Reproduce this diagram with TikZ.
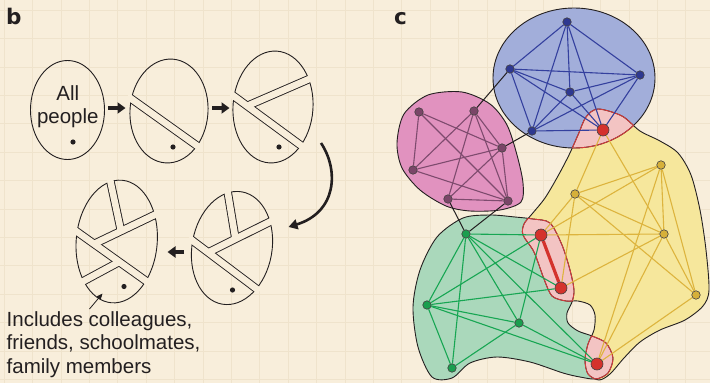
\documentclass[tikz,border=0pt]{standalone}
\usepackage{fontspec}
\setmainfont{Liberation Sans}
\newfontfamily\panelfont{DejaVu Sans}
\usetikzlibrary{arrows.meta}

\definecolor{paper}{HTML}{F8EEDB}
\definecolor{gridline}{HTML}{EFE3CC}
\definecolor{ink}{HTML}{231F20}
\definecolor{bluefill}{HTML}{A2AEDA}
\definecolor{bluedot}{HTML}{2E3890}
\definecolor{blueline}{HTML}{34409E}
\definecolor{magfill}{HTML}{E192BF}
\definecolor{magdot}{HTML}{7A4668}
\definecolor{magline}{HTML}{7E4B6E}
\definecolor{greenfill}{HTML}{AAD8BB}
\definecolor{greendot}{HTML}{1B9E4F}
\definecolor{greenline}{HTML}{17A653}
\definecolor{yelfill}{HTML}{F6E79C}
\definecolor{yeldot}{HTML}{D6B03A}
\definecolor{yelline}{HTML}{DDB43E}
\definecolor{reddot}{HTML}{D4322C}
\definecolor{overlap}{HTML}{F3C4C3}
\definecolor{overlapline}{HTML}{D63B3B}

\pgfdeclarelayer{blobs}
\pgfdeclarelayer{links}
\pgfsetlayers{blobs,links,main}

% community outlines
\def\bluearea{(574,78) ellipse [x radius=81, y radius=70]}
\def\magarea{plot [smooth cycle] coordinates {(397,143) (404,114) (428,95) (462,92) (490,104) (507,125) (517,155) (523,183) (521,202) (500,210) (470,211) (446,206) (420,190) (402,168)}}
\def\yelarea{plot [smooth cycle] coordinates {(598,109) (622,116) (640,131) (660,141) (678,153) (691,175) (700,210) (706,250) (709,290) (703,306) (685,320) (660,330) (640,342) (624,358) (610,374) (599,380) (588,374) (585,360) (588,344) (594,330) (595,315) (590,305) (578,301) (566,301) (552,296) (544,279) (534,252) (523,235) (524,224) (532,214) (545,198) (558,176) (569,155) (578,135) (586,117)}}
\def\greenarea{plot [smooth cycle] coordinates {(463,218) (490,215) (515,217) (533,219) (550,223) (562,245) (570,270) (574,290) (572,302) (567,313) (568,323) (578,331) (592,336) (606,343) (613,358) (608,373) (596,379) (580,377) (563,373) (530,362) (497,357) (470,363) (452,378) (432,377) (418,347) (413,307) (420,270) (437,237)}}

\begin{document}
\begin{tikzpicture}[
    x=1pt, y=-1pt,
    egg/.style={draw=ink, line width=0.9pt},
    cutedge/.style={draw=ink, line width=8.4pt},
    cutgap/.style={draw=paper, line width=6.6pt},
    bigarrow/.style={draw=ink, line width=3.2pt, -{Triangle[length=8pt,width=11pt]}},
    bendarrow/.style={draw=ink, line width=2.6pt, -{Triangle[length=9pt,width=10pt]}},
    pointer/.style={draw=ink, line width=0.8pt, -{Triangle[length=6pt,width=5pt]}},
    words/.style={inner sep=0, text=ink, font=\fontsize{20.5}{23.5}\selectfont},
    tag/.style={inner sep=0, text=ink, font=\panelfont\bfseries\fontsize{21.5}{22}\selectfont},
    rim/.style={draw=ink, line width=0.9pt},
    redrim/.style={draw=overlapline, line width=0.9pt},
    vertex/.style={circle, draw=ink!85, line width=0.6pt, inner sep=0, minimum size=8.5pt},
    bluenode/.style={vertex, fill=bluedot},
    magnode/.style={vertex, fill=magdot},
    greennode/.style={vertex, fill=greendot},
    yelnode/.style={vertex, fill=yeldot},
    rednode/.style={vertex, fill=reddot, minimum size=12pt},
    bluelink/.style={draw=blueline, line width=1.1pt},
    maglink/.style={draw=magline, line width=1.1pt},
    greenlink/.style={draw=greenline, line width=1.1pt},
    yellink/.style={draw=yelline, line width=1.1pt},
    bridge/.style={draw=ink, line width=1pt},
    redlink/.style={draw=reddot, line width=3.2pt}
]
\useasboundingbox (0,0) rectangle (710,383);

\begin{pgfonlayer}{blobs}
\fill[paper] (0,0) rectangle (710,383);
\foreach \gx in {4,32.4,...,710} \draw[gridline, line width=0.5pt] (\gx,0) -- (\gx,383);
\foreach \gy in {10,38.4,...,383} \draw[gridline, line width=0.5pt] (0,\gy) -- (710,\gy);

\fill[bluefill] \bluearea;
\fill[magfill] \magarea;
\fill[yelfill] \yelarea;
\fill[greenfill] \greenarea;
\begin{scope}
    \clip \bluearea;
    \fill[overlap] \yelarea;
\end{scope}
\begin{scope}
    \clip \greenarea;
    \fill[overlap] \yelarea;
\end{scope}
\draw[rim] \bluearea;
\draw[rim] \magarea;
\draw[rim] \yelarea;
\draw[rim] \greenarea;
\begin{scope}
    \clip \bluearea;
    \draw[redrim] \yelarea;
\end{scope}
\begin{scope}
    \clip \yelarea;
    \draw[redrim] \bluearea;
    \draw[redrim] \greenarea;
\end{scope}
\begin{scope}
    \clip \greenarea;
    \draw[redrim] \yelarea;
\end{scope}
\end{pgfonlayer}

% panel b
\node[tag, anchor=base west] (labb) at (6,24.3) {b};

% all people
\draw[egg] (67.5,110) ellipse [x radius=37, y radius=49.5];
\node[words, align=center, anchor=north] (allpeople) at (67.8,85.4) {All\\people};
\fill[ink] (73,142) circle (2.6);

% one cut
\draw[egg] (169,111) ellipse [x radius=39, y radius=52, rotate=-4];
\begin{scope}
    \clip (169,111) ellipse [x radius=39, y radius=52, rotate=-4];
    \draw[cutedge] (126,95) -- (203,150);
\end{scope}
\begin{scope}
    \clip (169,111) ellipse [x radius=43, y radius=56, rotate=-4];
    \draw[cutgap] (126,95) -- (203,150);
\end{scope}
\fill[ink] (173,147) circle (2.6);

% two cuts
\draw[egg] (273,107) ellipse [x radius=40, y radius=56, rotate=-4];
\begin{scope}
    \clip (273,107) ellipse [x radius=40, y radius=56, rotate=-4];
    \draw[cutedge] (228.6,92.3) -- (305.4,148.7);
    \draw[cutedge] (247,106) -- (314.3,76.8);
\end{scope}
\begin{scope}
    \clip (273,107) ellipse [x radius=44, y radius=60, rotate=-4];
    \draw[cutgap] (228.6,92.3) -- (305.4,148.7);
    \draw[cutgap] (247,106) -- (314.3,76.8);
\end{scope}
\fill[ink] (279,147) circle (2.6);

% three cuts
\draw[egg] (232,248) ellipse [x radius=40, y radius=57, rotate=-10];
\begin{scope}
    \clip (232,248) ellipse [x radius=40, y radius=57, rotate=-10];
    \draw[cutedge] (185.3,235.2) -- (263.1,293.8);
    \draw[cutedge] (208.3,252.5) -- (277.2,218.1);
    \draw[cutedge] (235.5,239) -- (226.7,186.1);
\end{scope}
\begin{scope}
    \clip (232,248) ellipse [x radius=44, y radius=61, rotate=-10];
    \draw[cutgap] (185.3,235.2) -- (263.1,293.8);
    \draw[cutgap] (208.3,252.5) -- (277.2,218.1);
    \draw[cutgap] (235.5,239) -- (226.7,186.1);
\end{scope}
\fill[ink] (232.5,290) circle (2.6);

% four cuts
\draw[egg] (116.7,241.5) ellipse [x radius=40.5, y radius=61.5, rotate=-5];
\begin{scope}
    \clip (116.7,241.5) ellipse [x radius=40.5, y radius=61.5, rotate=-5];
    \draw[cutedge] (69.5,226.4) -- (152.5,285.6);
    \draw[cutedge] (94,244) -- (163.2,210.8);
    \draw[cutedge] (121,231) -- (109.3,176.2);
    \draw[cutedge] (119,262) -- (78,284.1);
\end{scope}
\begin{scope}
    \clip (116.7,241.5) ellipse [x radius=44.5, y radius=65.5, rotate=-5];
    \draw[cutgap] (69.5,226.4) -- (152.5,285.6);
    \draw[cutgap] (94,244) -- (163.2,210.8);
    \draw[cutgap] (121,231) -- (109.3,176.2);
    \draw[cutgap] (119,262) -- (78,284.1);
\end{scope}
\fill[ink] (124,286.5) circle (2.6);

% arrows between stages
\coordinate (s1out) at (108,108);
\coordinate (s2in) at (125.5,108);
\coordinate (s2out) at (212,108);
\coordinate (s3in) at (229.5,108);
\coordinate (s3out) at (321,143);
\coordinate (s4in) at (288.5,227);
\coordinate (s4out) at (184,252);
\coordinate (s5in) at (167.5,252);
\draw[bigarrow] (s1out) -- (s2in);
\draw[bigarrow] (s2out) -- (s3in);
\draw[bendarrow] (s3out) .. controls (339,170) and (337,212) .. (s4in);
\draw[bigarrow] (s4out) -- (s5in);

\coordinate (hint) at (89.5,309);
\coordinate (hinttip) at (102.5,293.5);
\draw[pointer] (hint) -- (hinttip);
\node[words, align=left, anchor=north west] (note) at (6.5,311) {Includes colleagues,\\friends, schoolmates,\\family members};

% panel c
\node[tag, anchor=base west] (labc) at (394,24.3) {c};

\foreach \n/\x/\y in {b1/567/22, b2/510/69, b3/640/75, b4/570/92, b5/532/131}
    \node[bluenode] (\n) at (\x,\y) {};
\foreach \n/\x/\y in {m1/419/112, m2/474/111, m3/502/148, m4/413/170, m5/448/199, m6/508/201}
    \node[magnode] (\n) at (\x,\y) {};
\foreach \n/\x/\y in {g1/466/234, g2/427/305, g3/519/323, g4/452/368}
    \node[greennode] (\n) at (\x,\y) {};
\foreach \n/\x/\y in {y1/661/165, y2/575/194, y3/664/234, y4/696/295}
    \node[yelnode] (\n) at (\x,\y) {};
\foreach \n/\x/\y in {r1/603/130, r2/541/235, r3/561/288, r4/597/364}
    \node[rednode] (\n) at (\x,\y) {};

\begin{pgfonlayer}{links}
\foreach \a/\b in {b1/b2, b1/b3, b1/b4, b1/b5, b1/r1, b2/b3, b2/b4, b2/b5, b2/r1,
                   b3/b4, b3/b5, b3/r1, b4/b5, b4/r1, b5/r1}
    \draw[bluelink] (\a) -- (\b);
\foreach \a/\b in {m1/m4, m1/m3, m1/m6, m2/m3, m2/m4, m2/m5, m2/m6, m3/m4,
                   m3/m5, m3/m6, m4/m6, m5/m6}
    \draw[maglink] (\a) -- (\b);
\foreach \a/\b in {r1/y2, r1/y3, y1/y2, y1/y3, y1/y4, y1/r2, y1/r4, y2/y3,
                   y2/y4, y2/r2, y2/r3, y3/r2, y3/r3, y3/r4, y3/y4, y4/r4}
    \draw[yellink] (\a) -- (\b);
\foreach \a/\b in {g1/r2, g1/g2, g1/g4, g1/g3, g1/r3, g1/r4, r2/g2, r2/g3,
                   r3/g2, g2/g3, g2/r4, g2/g4, g3/g4, g3/r4}
    \draw[greenlink] (\a) -- (\b);
\foreach \a/\b in {b2/m2, b5/m3, m5/g1, m6/g1}
    \draw[bridge] (\a) -- (\b);
\draw[redlink] (r2) -- (r3);
\end{pgfonlayer}
\end{tikzpicture}
\end{document}
